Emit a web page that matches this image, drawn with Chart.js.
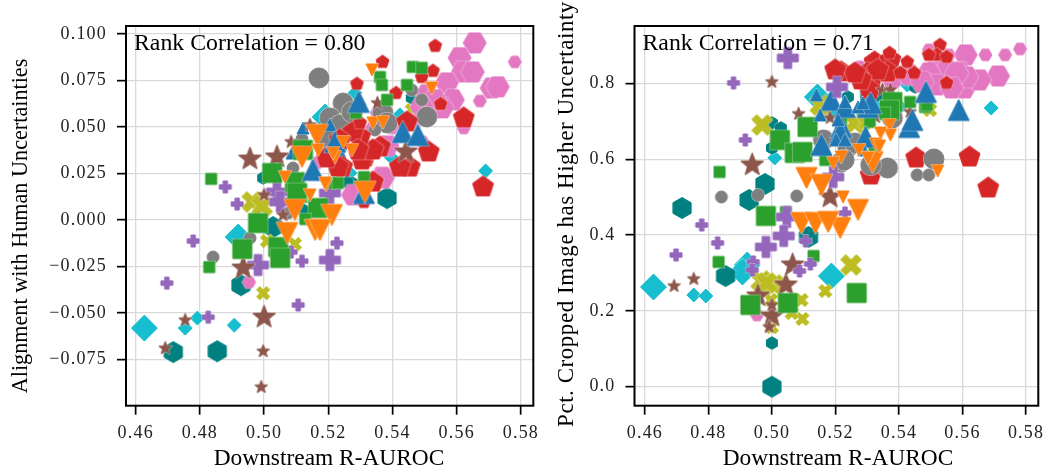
<!DOCTYPE html>
<html>
<head>
<meta charset="utf-8">
<title>Rank correlation scatter</title>
<script src="https://cdn.jsdelivr.net/npm/chart.js@4/dist/chart.umd.js"></script>
<style>
    html, body { margin: 0; padding: 0; background: #fff; }
    canvas { position: absolute; top: 0; }
    #leftChart { left: 0; }
    #rightChart { left: 545px; }
</style>
</head>
<body>
<canvas id="leftChart" width="545" height="469"></canvas>
<canvas id="rightChart" width="505" height="469"></canvas>
<script>
const xTicks = [0.46, 0.48, 0.50, 0.52, 0.54, 0.56, 0.58];
const leftYTicks = [-0.075, -0.05, -0.025, 0, 0.025, 0.05, 0.075, 0.1];
const rightYTicks = [0, 0.2, 0.4, 0.6, 0.8];

const xTitle = 'Downstream R-AUROC';
const leftYTitle = 'Alignment with Human Uncertainties';
const rightYTitle = 'Pct. Cropped Image has Higher Uncertainty';
const leftNote = 'Rank Correlation = 0.80';
const rightNote = 'Rank Correlation = 0.71';

// Left panel, [R-AUROC, alignment]
const leftCyanLarge = [[.4627,-.0581],[.4919,-.0091],[.5190,.0554],[.5221,.0511]];
const leftCyanSmall = [[.4754,-.0581],[.4792,-.0527],[.4907,-.0565],[.5690,.0264],[.5395,.0339],[.5423,.0565],[.5283,.0683],[.5267,.0253],[.5236,.0377]];
const leftTealLarge = [[.4717,-.0710],[.4854,-.0705],[.4928,-.0350],[.5383,.0118],[.5028,-.0038]];
const leftTealSmall = [[.4997,.0226],[.5274,.0199],[.5121,.0054],[.5460,.0656],[.5258,.0204],[.5100,.0161]];
const leftGrayLarge = [[.5171,.0764],[.5246,.0629],[.5205,.0549],[.5236,.0511],[.5370,.0576],[.5383,.0522],[.5507,.0554],[.5196,.0420],[.5190,.0447],[.5274,.0581]];
const leftGraySmall = [[.5118,.0436],[.5090,.0280],[.4841,-.0199],[.4956,-.0097],[.5075,.0038],[.5460,.0699],[.5491,.0646],[.5345,.0484]];
const leftOliveLarge = [[.4963,.0097],[.4994,.0075],[.5252,.0538]];
const leftOliveSmall = [[.4997,-.0393],[.5009,-.0113],[.5096,-.0129],[.5460,.0592]];
const leftPinkLarge = [[.5656,.0952],[.5609,.0872],[.5619,.0796],[.5650,.0796],[.5709,.0710],[.5728,.0716],[.5569,.0737],[.5588,.0646],[.5554,.0603],[.5507,.0673],[.5532,.0646],[.5491,.0608],[.5384,.0398],[.5367,.0231],[.5277,.0135],[.5370,.0226]];
const leftPinkSmall = [[.5781,.0850],[.5672,.0640],[.5622,.0495],[.5479,.0538],[.5454,.0538],[.5398,.0495],[.5351,.0576],[.5494,.0420],[.5165,.0307],[.4953,-.0334],[.5336,.0495]];
const leftRedLarge = [[.5682,.0178],[.5513,.0366],[.5454,.0285],[.5423,.0285],[.5622,.0549],[.5445,.0527],[.5314,.0339],[.5361,.0393],[.5305,.0323],[.5339,.0377],[.5299,.0447],[.5277,.0473],[.5243,.0285],[.5339,.0204],[.5230,.0285],[.5196,.0334],[.5292,.0377],[.5236,.0430]];
const leftRedSmall = [[.5533,.0936],[.5369,.0850],[.5526,.0802],[.5491,.0769],[.5411,.0683],[.5289,.0732],[.5550,.0624],[.5311,.0097],[.5299,.0522]];
const leftPurpleLarge = [[.4981,-.0242],[.5205,-.0215],[.5040,.0151],[.5050,.0097],[.5205,.0145]];
const leftPurpleSmall = [[.4779,-.0113],[.4697,-.0339],[.4826,-.0522],[.5106,-.0457],[.5227,-.0124],[.5118,-.0221],[.5084,-.0172],[.4879,.0178],[.4916,.0086]];
const leftBrownLarge = [[.4956,.0328],[.5040,.0339],[.5000,-.0522],[.4935,-.0258],[.5442,.0366]];
const leftBrownSmall = [[.5000,.0135],[.5084,.0420],[.5143,.0511],[.4754,-.0538],[.4692,-.0689],[.4997,-.0705],[.4991,-.0898],[.5353,.0629],[.5059,.0027]];
const leftGreenLarge = [[.5025,.0253],[.5096,.0204],[.5103,.0145],[.5168,.0065],[.4981,-.0016],[.5044,-.0145],[.4932,-.0156],[.5050,-.0204],[.5121,.0377]];
const leftGreenSmall = [[.4835,.0221],[.4829,-.0253],[.5361,.0769],[.5367,.0726],[.5383,.0646],[.5463,.0823],[.5491,.0818],[.5445,.0726],[.5286,.0576],[.5205,.0199],[.5128,.0005],[.5311,.0231],[.5230,.0199]];
const leftBlueLarge = [[.5295,.0635],[.5221,.0420],[.5432,.0473],[.5479,.0457],[.5152,.0269],[.5311,.0145]];
const leftBlueSmall = [[.5205,.0511],[.5087,.0360],[.5121,.0495],[.5277,.0473],[.5236,.0366],[.5299,.0646],[.5299,.0124]];
const leftOrangeLarge = [[.5314,.0151],[.5165,.0457],[.5118,.0339],[.5211,.0027],[.5159,-.0054],[.5174,-.0054],[.5072,-.0070],[.5096,.0054]];
const leftOrangeSmall = [[.5336,.0807],[.5522,.0710],[.5339,.0522],[.5370,.0527],[.5274,.0377],[.5193,.0188],[.5168,.0377],[.5246,.0420],[.5143,.0135],[.5221,.0339],[.5190,.0199],[.5215,.0360],[.5065,.0231]];

// Right panel, [R-AUROC, pct. cropped higher]
const rightCyanLarge = [[.4627,.2631],[.5187,.2921],[.4922,.3212],[.5143,.7645],[.4907,.3027]];
const rightCyanSmall = [[.4754,.2420],[.4792,.2394],[.5690,.7355],[.5009,.6036],[.5426,.7962],[.5404,.7381],[.5286,.6827],[.5193,.7249],[.5333,.7355]];
const rightTealLarge = [[.4717,.4716],[.4928,.4927],[.4978,.5349],[.4854,.2921],[.5000,0],[.5115,.3951],[.5308,.7687]];
const rightTealSmall = [[.5000,.1153],[.5000,.6959],[.5028,.6827],[.5000,.6299],[.5239,.7645],[.5333,.7698],[.5451,.7909]];
const rightOliveLarge = [[.4969,.6906],[.5249,.3212],[.4966,.2790],[.5006,.2684],[.4984,.2737],[.5152,.7434],[.5261,.6959]];
const rightOliveSmall = [[.5168,.2526],[.5093,.2288],[.5096,.1787],[.5062,.1945],[.4997,.2288],[.5000,.1575],[.5498,.7302],[.5292,.6959]];
const rightPinkLarge = [[.5610,.8754],[.5606,.7883],[.5712,.8199],[.5653,.8094],[.5591,.8305],[.5510,.8305],[.5550,.8358],[.5613,.8173],[.5379,.8147],[.5494,.8279],[.5582,.8279],[.5432,.8226],[.5519,.7962],[.5566,.7883],[.5473,.8041]];
const rightPinkSmall = [[.5781,.8912],[.5734,.8754],[.5672,.8754],[.5494,.8886],[.5557,.8754],[.5171,.6589],[.4953,.1892],[.5277,.8437]];
const rightRedLarge = [[.5681,.5244],[.5454,.6035],[.5622,.6062],[.5311,.5587],[.5323,.8569],[.5302,.8279],[.5348,.8305],[.5311,.8015],[.5373,.8622],[.5364,.8305],[.5333,.8358],[.5308,.7830],[.5280,.8094],[.5218,.8305],[.5261,.8279],[.5199,.8358]];
const rightRedSmall = [[.5529,.9018],[.5519,.8754],[.5550,.8701],[.5426,.8569],[.5404,.8279],[.5448,.8279],[.5550,.8015],[.5370,.8806],[.5494,.8754]];
const rightGrayLarge = [[.5510,.6009],[.5364,.5771],[.5311,.5851],[.5218,.5930],[.5379,.7091],[.5239,.6325],[.5162,.6510],[.5261,.6431],[.5227,.5983]];
const rightGraySmall = [[.5457,.5587],[.5494,.5587],[.4841,.5006],[.4956,.5059],[.5078,.5033]];
const rightBrownLarge = [[.4938,.5851],[.5183,.5006],[.5044,.2684],[.5065,.3212],[.5000,.1866],[.4956,.2394]];
const rightBrownSmall = [[.5000,.8041],[.5084,.7197],[.4754,.2842],[.4692,.2657],[.5000,.2156],[.4991,.1575],[.5183,.7091],[.5348,.7830],[.5373,.7830],[.5435,.7249],[.5327,.7117]];
const rightGreenLarge = [[.5267,.2473],[.5050,.2209],[.4932,.2156],[.4981,.4505],[.5025,.6510],[.5112,.6853],[.5072,.6167],[.5096,.6194],[.5379,.7513],[.5370,.7302]];
const rightGreenSmall = [[.4835,.5666],[.4832,.3291],[.5131,.3449],[.5435,.7513],[.5482,.7381],[.5286,.7302],[.5308,.6985],[.5488,.7434],[.5355,.7223],[.5168,.5983],[.5323,.6193],[.5044,.4610],[.5218,.6959]];
const rightBlueLarge = [[.5485,.7777],[.5588,.7302],[.5432,.6853],[.5442,.7038],[.5156,.6378],[.5218,.6853],[.5215,.6695],[.5187,.7566],[.5230,.7381],[.5302,.7381],[.5311,.7487],[.5295,.6589]];
const rightBlueSmall = [[.5140,.7698],[.5152,.7170],[.5202,.6510],[.5230,.6510],[.5289,.6246],[.5230,.7513],[.5271,.7381],[.5286,.7487],[.5208,.7038]];
const rightPurpleLarge = [[.5050,.8674],[.5205,.7909],[.5047,.4478],[.5037,.3977],[.4981,.3687],[.5193,.5534]];
const rightPurpleSmall = [[.4879,.8015],[.4916,.6510],[.4779,.4267],[.4829,.3792],[.4698,.3476],[.4941,.3291],[.4938,.3080],[.5106,.3845],[.5087,.3053],[.5121,.3238],[.5230,.4584]];
const rightOrangeLarge = [[.5317,.5930],[.5271,.4663],[.5109,.5508],[.5156,.5323],[.5215,.4188],[.5093,.4320],[.5137,.4320],[.5177,.4346]];
const rightOrangeSmall = [[.5224,.5006],[.5522,.5692],[.5370,.6906],[.5373,.6642],[.5342,.6695],[.5327,.6404],[.5339,.6352],[.5274,.6246],[.5218,.6062],[.5193,.5904],[.5302,.6035]];

const MARKERS = {
    cyan: { shape: 'diamond', color: '#17becf', small: 14, large: 26 },
    teal: { shape: 'hexUp', color: '#008080', small: 12, large: 20 },
    gray: { shape: 'circle', color: '#7f7f7f', small: 12, large: 20 },
    olive: { shape: 'cross', color: '#bcbd22', small: 12, large: 19 },
    pink: { shape: 'hexFlat', color: '#e377c2', small: 13, large: 23 },
    red: { shape: 'pentagon', color: '#d62728', small: 13, large: 21 },
    purple: { shape: 'plus', color: '#9467bd', small: 12, large: 21 },
    brown: { shape: 'star', color: '#8c564b', small: 13, large: 23 },
    green: { shape: 'square', color: '#2ca02c', small: 11, large: 19 },
    blue: { shape: 'up', color: '#1f77b4', small: 12, large: 21 },
    orange: { shape: 'down', color: '#ff7f0e', small: 12, large: 21 }
};

// Bottom to top
const leftLayers = [
    [leftCyanLarge, 'cyan', 'large'], [leftCyanSmall, 'cyan', 'small'],
    [leftTealLarge, 'teal', 'large'], [leftTealSmall, 'teal', 'small'],
    [leftOliveLarge, 'olive', 'large'], [leftOliveSmall, 'olive', 'small'],
    [leftPinkLarge, 'pink', 'large'], [leftPinkSmall, 'pink', 'small'],
    [leftGrayLarge, 'gray', 'large'], [leftGraySmall, 'gray', 'small'],
    [leftBlueSmall, 'blue', 'small'],
    [leftRedLarge, 'red', 'large'], [leftRedSmall, 'red', 'small'],
    [leftPurpleLarge, 'purple', 'large'], [leftPurpleSmall, 'purple', 'small'],
    [leftBrownLarge, 'brown', 'large'], [leftBrownSmall, 'brown', 'small'],
    [leftGreenLarge, 'green', 'large'], [leftGreenSmall, 'green', 'small'],
    [leftBlueLarge, 'blue', 'large'],
    [leftOrangeLarge, 'orange', 'large'], [leftOrangeSmall, 'orange', 'small']
];
const rightLayers = [
    [rightCyanLarge, 'cyan', 'large'], [rightCyanSmall, 'cyan', 'small'],
    [rightTealLarge, 'teal', 'large'], [rightTealSmall, 'teal', 'small'],
    [rightOliveLarge, 'olive', 'large'], [rightOliveSmall, 'olive', 'small'],
    [rightPinkLarge, 'pink', 'large'], [rightPinkSmall, 'pink', 'small'],
    [rightRedLarge, 'red', 'large'], [rightRedSmall, 'red', 'small'],
    [rightGrayLarge, 'gray', 'large'], [rightGraySmall, 'gray', 'small'],
    [rightBrownLarge, 'brown', 'large'], [rightBrownSmall, 'brown', 'small'],
    [rightGreenLarge, 'green', 'large'], [rightGreenSmall, 'green', 'small'],
    [rightBlueLarge, 'blue', 'large'], [rightBlueSmall, 'blue', 'small'],
    [rightPurpleLarge, 'purple', 'large'], [rightPurpleSmall, 'purple', 'small'],
    [rightOrangeLarge, 'orange', 'large'], [rightOrangeSmall, 'orange', 'small']
];

function polygon(ctx, count, radius, startDeg) {
    for (let i = 0; i < count; i++) {
        const a = (startDeg + i * 360 / count) * Math.PI / 180;
        ctx.lineTo(radius * Math.cos(a), radius * Math.sin(a));
    }
    ctx.closePath();
}

function tracePath(ctx, shape, d) {
    const r = d / 2;
    ctx.beginPath();
    if (shape === 'circle') {
        ctx.arc(0, 0, r, 0, Math.PI * 2);
    } else if (shape === 'square') {
        ctx.rect(-r, -r, d, d);
    } else if (shape === 'diamond') {
        polygon(ctx, 4, r, 0);
    } else if (shape === 'up' || shape === 'down') {
        const s = shape === 'up' ? 1 : -1;
        ctx.moveTo(0, -r * s);
        ctx.lineTo(r, r * s);
        ctx.lineTo(-r, r * s);
        ctx.closePath();
    } else if (shape === 'pentagon') {
        polygon(ctx, 5, r * 1.05, -90);
    } else if (shape === 'hexUp') {
        polygon(ctx, 6, r * 1.05, -90);
    } else if (shape === 'hexFlat') {
        polygon(ctx, 6, r, 0);
    } else if (shape === 'star') {
        for (let i = 0; i < 10; i++) {
            const a = (-90 + i * 36) * Math.PI / 180;
            const len = i % 2 ? r * 0.45 : r * 1.05;
            ctx.lineTo(len * Math.cos(a), len * Math.sin(a));
        }
        ctx.closePath();
    } else {
        // filled plus, turned 45 degrees for the x marker
        const w = r * 0.36;
        if (shape === 'cross') ctx.rotate(Math.PI / 4);
        const k = shape === 'cross' ? 1.15 : 1;
        const e = r * k;
        [[-w,-e],[w,-e],[w,-w],[e,-w],[e,w],[w,w],[w,e],[-w,e],[-w,w],[-e,w],[-e,-w],[-w,-w]].forEach(p => ctx.lineTo(p[0], p[1]));
        ctx.closePath();
    }
}

const spriteCache = {};

function getSprite(name, sizeKey) {
    const key = name + sizeKey;
    if (spriteCache[key]) return spriteCache[key];
    const m = MARKERS[name];
    const d = m[sizeKey];
    const c = document.createElement('canvas');
    c.width = c.height = d + 10;
    const ctx = c.getContext('2d');
    ctx.translate(c.width / 2, c.height / 2);
    ctx.lineJoin = 'round';
    tracePath(ctx, m.shape, d);
    ctx.strokeStyle = 'rgba(255,255,255,0.55)';
    ctx.lineWidth = 2;
    ctx.stroke();
    ctx.fillStyle = m.color;
    ctx.fill();
    ctx.strokeStyle = m.color;
    ctx.lineWidth = 1;
    ctx.stroke();
    spriteCache[key] = c;
    return c;
}

// Chart.js paints the first dataset last, so flip the list
function buildDatasets(layers) {
    return layers.slice().reverse().map(layer => ({
        data: layer[0].map(p => ({ x: p[0], y: p[1] })),
        pointStyle: getSprite(layer[1], layer[2]),
        pointRadius: 5,
        showLine: false
    }));
}

function formatLeftY(v) {
    return (v < 0 ? '\u2212' : '') + Math.abs(v).toFixed(3);
}

// Frame, axis titles and the note go on top of the markers
const panelDecor = {
    id: 'panelDecor',
    beforeDraw(chart) {
        chart.ctx.letterSpacing = '1.2px';
    },
    beforeDatasetsDraw(chart) {
        chart.ctx.letterSpacing = '0px';
    },
    afterDraw(chart, args, opts) {
        const ctx = chart.ctx;
        const a = chart.chartArea;
        ctx.save();
        ctx.letterSpacing = '0px';
        ctx.strokeStyle = '#000';
        ctx.lineWidth = 2;
        ctx.strokeRect(a.left, a.top, a.right - a.left, a.bottom - a.top);
        ctx.fillStyle = '#000';
        ctx.font = '23.8px "Liberation Serif"';
        ctx.textAlign = 'left';
        ctx.textBaseline = 'alphabetic';
        ctx.fillText(opts.note, a.left + 8, 50);
        ctx.font = '23.4px "Liberation Serif"';
        ctx.textAlign = 'center';
        ctx.fillText(xTitle, opts.xTitleX, 465);
        ctx.translate(opts.yTitleX, opts.yTitleY);
        ctx.rotate(-Math.PI / 2);
        ctx.font = opts.yTitleSize + 'px "Liberation Serif"';
        ctx.letterSpacing = opts.yTitleSpacing;
        ctx.fillText(opts.yTitle, 0, 0);
        ctx.restore();
    }
};

function makeChart(id, layers, cfg) {
    const tickFont = { family: '"Liberation Serif"', size: 18 };
    return new Chart(document.getElementById(id), {
        type: 'scatter',
        data: { datasets: buildDatasets(layers) },
        plugins: [panelDecor],
        options: {
            responsive: false,
            animation: false,
            devicePixelRatio: 1,
            events: [],
            layout: { padding: { top: 26, right: cfg.rightPad, left: 0, bottom: 0 } },
            plugins: {
                legend: { display: false },
                tooltip: { enabled: false },
                panelDecor: cfg.decor
            },
            scales: {
                x: {
                    type: 'linear',
                    min: cfg.xMin,
                    max: cfg.xMax,
                    afterBuildTicks: scale => { scale.ticks = xTicks.map(v => ({ value: v })); },
                    afterFit: scale => { scale.height = 63.3; },
                    border: { display: false },
                    grid: { color: '#d9d9d9', lineWidth: 1.3, tickColor: '#000', tickWidth: 1.7, tickLength: 9 },
                    ticks: {
                        color: '#222',
                        font: tickFont,
                        padding: 8,
                        maxRotation: 0,
                        autoSkip: false,
                        callback: v => v.toFixed(2)
                    }
                },
                y: {
                    type: 'linear',
                    min: cfg.yMin,
                    max: cfg.yMax,
                    afterBuildTicks: scale => { scale.ticks = cfg.yTicks.map(v => ({ value: v })); },
                    afterFit: scale => { scale.width = cfg.yWidth; },
                    border: { display: false },
                    grid: { color: '#d9d9d9', lineWidth: 1.3, tickColor: '#000', tickWidth: 1.7, tickLength: 9 },
                    ticks: {
                        color: '#222',
                        font: tickFont,
                        padding: 10,
                        autoSkip: false,
                        callback: cfg.yFormat
                    }
                }
            }
        }
    });
}

makeChart('leftChart', leftLayers, {
    rightPad: 11,
    yWidth: 126,
    xMin: 0.45698,
    xMax: 0.58386,
    yMin: -0.0998,
    yMax: 0.1043,
    yTicks: leftYTicks,
    yFormat: formatLeftY,
    decor: { note: leftNote, yTitle: leftYTitle, yTitleSize: 22.2, yTitleSpacing: '0px', xTitleX: 329, yTitleX: 27, yTitleY: 226 }
});

makeChart('rightChart', rightLayers, {
    rightPad: 7,
    yWidth: 89.5,
    xMin: 0.45673,
    xMax: 0.58386,
    yMin: -0.0501,
    yMax: 0.9517,
    yTicks: rightYTicks,
    yFormat: v => v.toFixed(1),
    decor: { note: rightNote, yTitle: rightYTitle, yTitleSize: 23, yTitleSpacing: '0.54px', xTitleX: 293, yTitleX: 28, yTitleY: 214 }
});
</script>
</body>
</html>
